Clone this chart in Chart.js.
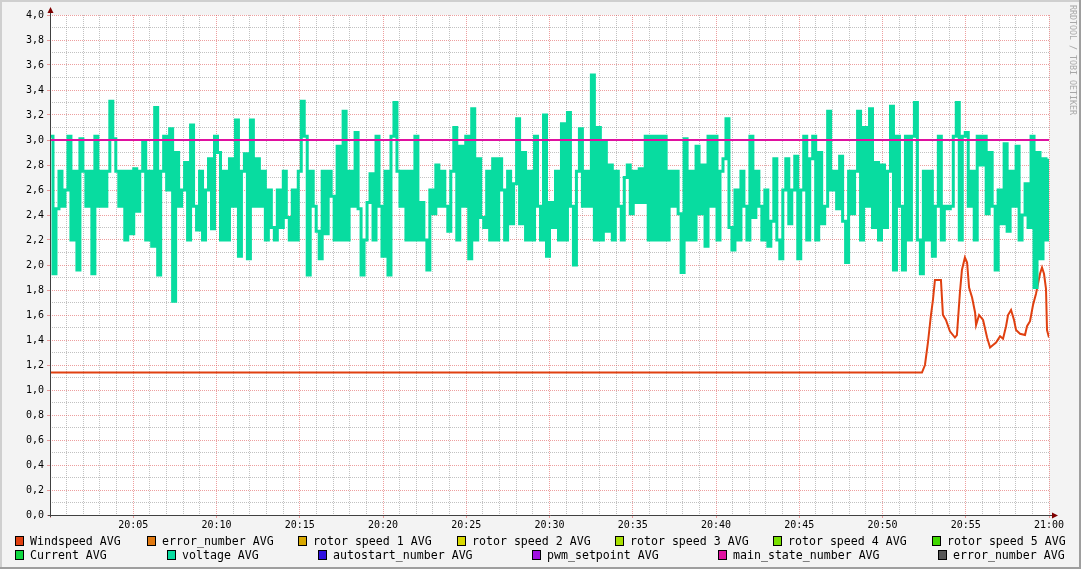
<!DOCTYPE html>
<html>
<head>
<meta charset="utf-8">
<script src="https://cdn.jsdelivr.net/npm/chart.js@4.4.1/dist/chart.umd.min.js"></script>
<style>
html, body { margin: 0; padding: 0; background: #f3f3f3; }
#wrap { width: 1081px; height: 569px; }
</style>
</head>
<body>
<div id="wrap"><canvas id="graph" width="1081" height="569"></canvas></div>
<script>
// time axis: 20:00 .. 21:00, in minutes
const startHour = 20;
const spanMinutes = 60;

// voltage AVG, evenly spaced samples over the hour
const voltageAvg = [
    3.03, 1.93, 2.45, 2.75, 2.47, 2.6, 3.03, 2.2, 2.75, 1.96, 3.01, 2.75, 2.47, 2.75, 1.93, 3.03, 2.47,
    2.75, 2.47, 2.75, 3.31, 3.01, 2.75, 2.47, 2.75, 2.2, 2.75, 2.25, 2.77, 2.43, 2.75, 2.99, 2.2, 2.75,
    2.15, 3.26, 1.92, 2.75, 3.03, 2.6, 3.09, 1.71, 2.9, 2.47, 2.6, 2.82, 2.2, 3.12, 2.47, 2.28, 2.75,
    2.2, 2.6, 2.85, 2.29, 3.03, 2.9, 2.2, 2.75, 2.2, 2.85, 2.47, 3.16, 2.07, 2.75, 2.89, 2.05,
    // 20:12
    3.16, 2.47, 2.85, 2.47, 2.75, 2.2, 2.6, 2.3, 2.2, 2.6, 2.3, 2.75, 2.38, 2.2, 2.6, 2.2, 2.75,
    3.31, 3.03, 1.92, 2.75, 2.47, 2.27, 2.05, 2.75, 2.25, 2.75, 2.55, 2.2, 2.95, 2.2, 3.23, 2.2, 2.75,
    2.47, 3.06, 2.45, 1.92, 2.2, 2.5, 2.73, 2.2, 3.03, 2.47, 2.07, 2.75, 1.92, 3.03, 3.3, 2.75, 2.47,
    2.75, 2.2, 2.75, 2.2, 3.03, 2.2, 2.5, 2.2, 1.96, 2.6, 2.41, 2.8, 2.47, 2.75, 2.47, 2.27,
    // 20:24
    2.75, 3.1, 2.2, 2.95, 2.47, 3.03, 2.05, 3.25, 2.2, 2.85, 2.38, 2.3, 2.75, 2.2, 2.85, 2.2, 2.85,
    2.6, 2.2, 2.75, 2.33, 2.65, 3.17, 2.33, 2.9, 2.2, 2.75, 2.2, 3.03, 2.47, 2.2, 3.2, 2.07, 2.5,
    2.3, 2.75, 2.2, 3.13, 2.2, 3.22, 2.47, 2.0, 2.75, 3.09, 2.47, 2.75, 2.47, 3.52, 2.2, 3.1, 2.2,
    2.98, 2.27, 2.8, 2.2, 2.75, 2.47, 2.2, 2.7, 2.8, 2.41, 2.75, 2.5, 2.77, 2.5, 3.03, 2.2,
    // 20:36
    3.03, 2.2, 3.03, 2.2, 3.03, 2.2, 2.75, 2.47, 2.75, 2.41, 1.94, 3.01, 2.2, 2.75, 2.2, 2.95, 2.41,
    2.8, 2.15, 3.03, 2.47, 3.03, 2.2, 2.75, 2.85, 3.17, 2.3, 2.12, 2.6, 2.2, 2.75, 2.47, 2.2, 3.03,
    2.38, 2.75, 2.47, 2.2, 2.6, 2.15, 2.35, 2.85, 2.2, 2.05, 2.6, 2.85, 2.33, 2.6, 2.87, 2.05, 2.6,
    3.03, 2.2, 2.85, 3.03, 2.2, 2.9, 2.33, 2.47, 3.23, 2.6, 2.75, 2.45, 2.87, 2.35, 2.02, 2.75,
    // 20:48
    2.41, 2.75, 3.23, 2.2, 3.1, 2.47, 3.25, 2.3, 2.82, 2.2, 2.8, 2.3, 2.75, 3.27, 1.96, 3.03, 2.47,
    1.96, 3.03, 2.2, 3.03, 3.3, 2.2, 1.93, 2.75, 2.2, 2.75, 2.07, 2.47, 3.03, 2.2, 2.47, 2.45, 2.47,
    3.03, 3.3, 2.2, 3.03, 3.06, 2.47, 2.75, 2.2, 3.03, 2.8, 3.03, 2.41, 2.9, 2.47, 1.96, 2.6, 2.33,
    2.97, 2.27, 2.75, 2.47, 2.95, 2.2, 2.4, 2.65, 2.3, 3.03, 1.82, 2.9, 2.05, 2.85, 2.2, 2.85
];

// Windspeed AVG
const windMinutes = [
    0, 52.37, 52.55, 52.73, 52.91, 53.03, 53.15, 53.51, 53.63, 53.81, 54.05, 54.35, 54.47, 54.65,
    54.77, 54.95, 55.08, 55.2, 55.38, 55.56, 55.62, 55.8, 56.04, 56.28, 56.46, 56.64, 56.82, 57.06,
    57.24, 57.42, 57.54, 57.72, 57.9, 58.02, 58.26, 58.56, 58.68, 58.86, 59.04, 59.22, 59.46,
    59.58, 59.7, 59.82, 59.88, 60
];
const windspeedAvg = [
    1.14, 1.14, 1.2, 1.38, 1.6, 1.72, 1.88, 1.88, 1.6, 1.56, 1.47, 1.42, 1.44, 1.78,
    1.96, 2.06, 2.02, 1.82, 1.74, 1.62, 1.52, 1.6, 1.56, 1.42, 1.34, 1.36, 1.38, 1.43,
    1.41, 1.51, 1.6, 1.64, 1.56, 1.48, 1.45, 1.44, 1.51, 1.55, 1.68, 1.77, 1.93,
    1.98, 1.93, 1.81, 1.48, 1.42
];

// main_state_number AVG
const stateMinutes = [0, 60];
const mainStateAvg = [3.0, 3.0];

const seriesNames = [
    "Windspeed AVG", "error_number AVG", "rotor speed 1 AVG", "rotor speed 2 AVG",
    "rotor speed 3 AVG", "rotor speed 4 AVG", "rotor speed 5 AVG",
    "Current AVG", "voltage AVG", "autostart_number AVG", "pwm_setpoint AVG",
    "main_state_number AVG", "error_number AVG"
];
const seriesColors = [
    "#e04010", "#e07810", "#d8a800", "#d8d800", "#a8e000", "#78e000", "#40d800",
    "#10d840", "#08dca0", "#3010e0", "#a010e0", "#e010a0", "#555555"
];
// legend box positions (x, row)
const legendX = [15, 147, 298, 457, 615, 773, 932, 15, 167, 318, 532, 718, 938];
const legendRow = [0, 0, 0, 0, 0, 0, 0, 1, 1, 1, 1, 1, 1];

const toPoints = (xs, ys) => ys.map((v, i) => ({ x: xs[i], y: v }));
const voltMinutes = voltageAvg.map((v, i) => i * spanMinutes / (voltageAvg.length - 1));

const seriesData = seriesNames.map(() => []);
seriesData[0] = toPoints(windMinutes, windspeedAvg);
seriesData[8] = toPoints(voltMinutes, voltageAvg);
seriesData[11] = toPoints(stateMinutes, mainStateAvg);

const MONO = "'DejaVu Sans Mono', monospace";
const isMajorY = (v) => Math.round(v * 10) % 2 === 0;
const isMajorX = (v) => Math.round(v) % 5 === 0;
const MGRID = "rgba(222,80,80,0.55)";
const GRID = "rgba(143,143,143,0.55)";

// background, 3d frame, white canvas
const framePlugin = {
    id: "rrdFrame",
    beforeDraw: (chart) => {
        const { ctx, chartArea: a, width, height } = chart;
        ctx.save();
        ctx.fillStyle = "#f3f3f3";
        ctx.fillRect(0, 0, width, height);
        ctx.fillStyle = "#cfcfcf";
        ctx.fillRect(0, 0, width, 2);
        ctx.fillRect(0, 0, 2, height);
        ctx.fillStyle = "#9e9e9e";
        ctx.fillRect(width - 2, 0, 2, height);
        ctx.fillRect(0, height - 2, width, 2);
        ctx.fillStyle = "#ffffff";
        ctx.fillRect(a.left, a.top, a.right - a.left, a.bottom - a.top);
        ctx.restore();
    },
    afterDraw: (chart) => {
        const { ctx, chartArea: a } = chart;
        ctx.save();
        // axes
        ctx.strokeStyle = "#404040";
        ctx.lineWidth = 1;
        ctx.beginPath();
        ctx.moveTo(a.left + 0.5, a.top - 3);
        ctx.lineTo(a.left + 0.5, a.bottom + 2);
        ctx.moveTo(a.left - 2, a.bottom + 0.5);
        ctx.lineTo(a.right + 4, a.bottom + 0.5);
        ctx.stroke();
        // arrows
        ctx.fillStyle = "#7f0000";
        ctx.beginPath();
        ctx.moveTo(a.left + 0.5, a.top - 8);
        ctx.lineTo(a.left + 3.5, a.top - 2);
        ctx.lineTo(a.left - 2.5, a.top - 2);
        ctx.closePath();
        ctx.fill();
        ctx.beginPath();
        ctx.moveTo(a.right + 9, a.bottom + 0.5);
        ctx.lineTo(a.right + 3, a.bottom - 2.5);
        ctx.lineTo(a.right + 3, a.bottom + 3.5);
        ctx.closePath();
        ctx.fill();

        // legend
        ctx.font = "11.6px " + MONO;
        ctx.textBaseline = "middle";
        ctx.textAlign = "left";
        chart.data.datasets.forEach((ds, i) => {
            const x = legendX[i];
            const y = legendRow[i] === 0 ? 541 : 555;
            ctx.fillStyle = seriesColors[i];
            ctx.fillRect(x, y - 4, 8, 8);
            ctx.strokeStyle = "#000000";
            ctx.strokeRect(x + 0.5, y - 4.5, 8, 9);
            ctx.fillStyle = "#000000";
            ctx.fillText(ds.label, x + 15, y + 1);
        });

        // watermark
        ctx.translate(1070, 5);
        ctx.rotate(Math.PI / 2);
        ctx.font = "8.3px " + MONO;
        ctx.fillStyle = "#a8a8a8";
        ctx.textBaseline = "middle";
        ctx.fillText("RRDTOOL / TOBI OETIKER", 0, -2.5);
        ctx.restore();
    },
};

const datasets = seriesNames.map((name, i) => ({
    label: name,
    data: seriesData[i],
    borderColor: seriesColors[i],
    backgroundColor: seriesColors[i],
    borderWidth: i === 8 ? 3 : 2,
    pointRadius: 0,
    fill: false,
    tension: 0,
    stepped: i === 8 ? "before" : false,
    order: i === 11 ? 0 : (i === 8 ? 1 : 2),
}));

new Chart(document.getElementById("graph"), {
    type: "line",
    data: { datasets },
    options: {
        responsive: false,
        animation: false,
        events: [],
        layout: { padding: { left: 0, right: 32, top: 15, bottom: 34 } },
        plugins: {
            legend: { display: false },
            tooltip: { enabled: false },
        },
        scales: {
            x: {
                type: "linear",
                min: 0,
                max: spanMinutes,
                afterFit: (s) => { s.height = 20; },
                border: { display: false, dash: [1, 1] },
                grid: {
                    color: (c) => isMajorX(c.tick.value) ? MGRID : GRID,
                    tickColor: (c) => isMajorX(c.tick.value) ? MGRID : "rgba(0,0,0,0)",
                    tickLength: 3,
                },
                ticks: {
                    stepSize: 1,
                    autoSkip: false,
                    maxRotation: 0,
                    padding: 1,
                    color: "#000000",
                    font: { family: MONO, size: 10 },
                    callback: (v) => {
                        if (v === 0 || !isMajorX(v)) return "";
                        const h = startHour + Math.floor(v / 60);
                        const m = Math.round(v % 60);
                        return h + ":" + String(m).padStart(2, "0");
                    },
                },
            },
            y: {
                min: 0,
                max: 4,
                afterFit: (s) => { s.width = 50; },
                border: { display: false, dash: [1, 1] },
                grid: {
                    color: (c) => isMajorY(c.tick.value) ? MGRID : GRID,
                    tickColor: (c) => isMajorY(c.tick.value) ? MGRID : "rgba(0,0,0,0)",
                    tickLength: 3,
                },
                ticks: {
                    stepSize: 0.1,
                    autoSkip: false,
                    padding: 3,
                    color: "#000000",
                    font: { family: MONO, size: 10 },
                    callback: (v) => isMajorY(v) ? v.toFixed(1).replace(".", ",") : "",
                },
            },
        },
    },
    plugins: [framePlugin],
});
</script>
</body>
</html>
